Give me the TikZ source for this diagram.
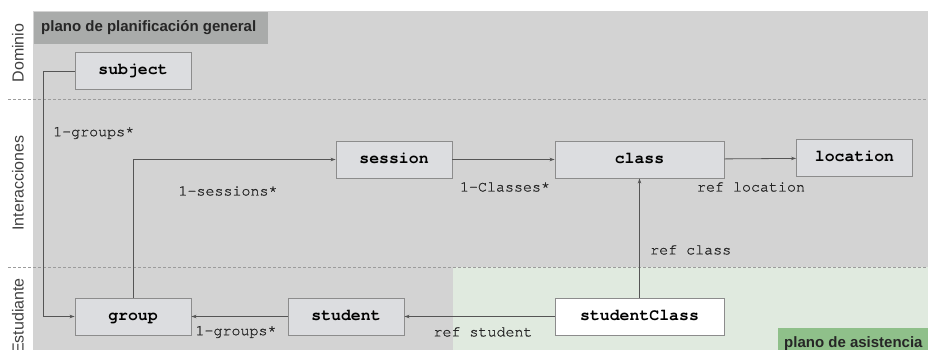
\documentclass[tikz,border=0pt]{standalone}
\usepackage{fontspec}
\setmainfont{Liberation Sans}
\setmonofont{TeX Gyre Cursor}
\newfontfamily\etiqfont{TeX Gyre Cursor}[FakeBold=0.9]
\usetikzlibrary{arrows.meta}
\definecolor{fondo}{HTML}{D3D3D3}
\definecolor{titulo}{HTML}{A9ABAA}
\definecolor{verde}{HTML}{E0EADF}
\definecolor{verdet}{HTML}{8FC08A}
\definecolor{cajaf}{HTML}{DCDDE0}
\definecolor{borde}{HTML}{8C8C8C}
\definecolor{linea}{HTML}{555555}
\definecolor{raya}{HTML}{9C9C9C}

\tikzset{
  caja/.style={draw=borde,fill=cajaf,line width=0.9pt,minimum width=116pt,minimum height=37pt,
    inner sep=0pt,text height=10pt,text depth=3pt,font=\ttfamily\bfseries\fontsize{16.5}{18}\selectfont},
  ancha/.style={minimum width=169pt},
  rel/.style={draw=linea,line width=0.8pt,-{Stealth[length=5pt,width=3.5pt]}},
  etiq/.style={font=\etiqfont\fontsize{15}{17}\selectfont,text=black!85,inner sep=0pt},
  plano/.style={anchor=west,font=\bfseries\fontsize{15}{17}\selectfont,text=black!85,inner sep=0pt},
  zona/.style={rotate=90,font=\fontsize{16}{18}\selectfont,text=black!75,inner sep=0pt}
}

\begin{document}
\begin{tikzpicture}[x=1pt,y=-1pt]
  \useasboundingbox (0,0) rectangle (928,350);
  % fondos de los planos
  \fill[fondo] (33,11) rectangle (928,350);
  \fill[verde] (453,267) rectangle (928,350);
  \fill[titulo] (34,12) rectangle (268,44);
  \fill[verdet] (778,328) rectangle (928,356);
  \node[plano] (planoGeneral) at (41,28) {plano de planificación general};
  \node[plano] (planoAsistencia) at (784,344) {plano de asistencia};
  % separadores de zona
  \foreach \y in {99,267}
    \draw[raya,line width=0.9pt,dash pattern=on 3pt off 2pt] (8,\y) -- (928,\y);
  \node[zona] (dominio) at (18,53) {Dominio};
  \node[zona] (interacciones) at (18,183) {Interacciones};
  \node[zona] (estudiante) at (18,316) {Estudiante};
  % entidades
  \node[caja] (subject) at (133,71) {subject};
  \node[caja] (session) at (394,159.5) {session};
  \node[caja,ancha] (class) at (639.5,159.5) {class};
  \node[caja] (location) at (854.5,158) {location};
  \node[caja] (group) at (133,316.5) {group};
  \node[caja] (student) at (346,316.5) {student};
  \node[caja,ancha,fill=white] (studentClass) at (639.5,316.5) {studentClass};
  % relaciones
  \draw[rel] (subject.west) -- ++(-31,0) |- (group.west);
  \draw[rel] (group.north) |- (session.west);
  \draw[rel] (session) -- (class);
  \draw[rel] (class) -- (location);
  \draw[rel] (studentClass) -- (class);
  \draw[rel] (studentClass) -- (student);
  \draw[rel] (student) -- (group);
  % etiquetas
  \node[etiq,anchor=west] (lGroupsA) at (53,133) {1-groups*};
  \node[etiq] (lSessions) at (228,191) {1-sessions*};
  \node[etiq] (lClasses) at (505,187) {1-Classes*};
  \node[etiq] (lLocation) at (751,187) {ref location};
  \node[etiq,anchor=west] (lClass) at (650,250) {ref class};
  \node[etiq] (lStudent) at (483,332) {ref student};
  \node[etiq] (lGroupsB) at (236,332) {1-groups*};
\end{tikzpicture}
\end{document}
